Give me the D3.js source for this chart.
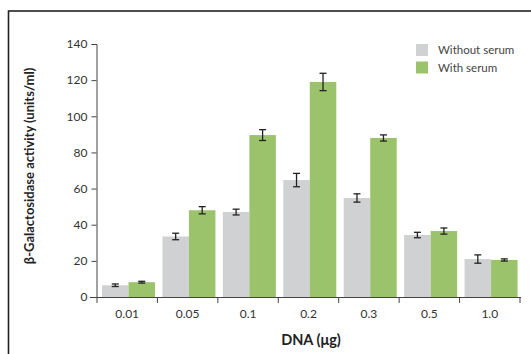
<html>
<script src="https://d3js.org/d3.v7.min.js"></script>
<body style="margin:0;background:#fff">
<svg id="chart" width="531" height="354"></svg>
<script>
// Data
const doses = ["0.01", "0.05", "0.1", "0.2", "0.3", "0.5", "1.0"];
const series = ["Without serum", "With serum"];
const withoutSerum = [6.5, 33.5, 47, 64.7, 54.8, 34.3, 21];
const withSerum = [8.2, 48, 89.6, 119, 88, 36.5, 20.5];
const withoutErr = [0.7, 1.8, 1.6, 3.7, 2.3, 1.5, 2.3];
const withErr = [0.5, 2.0, 3.0, 4.8, 1.7, 1.7, 0.6];
const yTicks = [0, 20, 40, 60, 80, 100, 120, 140];
const colors = ["#d0d1d3", "#9bc36b"];

const svg = d3.select("#chart");
const font = "Lato, 'DejaVu Sans', sans-serif";

// Frame
svg.append("rect")
  .attr("x", 8.5).attr("y", 11)
  .attr("width", 540).attr("height", 360)
  .attr("fill", "none").attr("stroke", "#222").attr("stroke-width", 1.6);

// Scales
const x0 = d3.scaleBand().domain(doses).range([97, 520]).padding(0);
const x1 = d3.scaleBand().domain(series).range([5, 58]).padding(0);
const y = d3.scaleLinear().domain([0, 140]).range([297, 44]);

// Bars
const rows = doses.map((d, i) => ({
  dose: d,
  vals: [
    {s: series[0], v: withoutSerum[i], e: withoutErr[i], c: colors[0]},
    {s: series[1], v: withSerum[i], e: withErr[i], c: colors[1]}
  ]
}));

const g = svg.append("g").selectAll("g")
  .data(rows).enter().append("g")
  .attr("transform", d => "translate(" + x0(d.dose) + ",0)");

g.selectAll("rect")
  .data(d => d.vals).enter().append("rect")
  .attr("x", d => x1(d.s))
  .attr("y", d => y(d.v))
  .attr("width", x1.bandwidth())
  .attr("height", d => y(0) - y(d.v))
  .attr("fill", d => d.c);

// Error bars
const eb = g.selectAll("g.err")
  .data(d => d.vals).enter().append("g")
  .attr("class", "err")
  .attr("stroke", "#222").attr("stroke-width", 1.3);
const cx = d => x1(d.s) + x1.bandwidth() / 2;
eb.append("line")
  .attr("x1", cx).attr("x2", cx)
  .attr("y1", d => y(d.v + d.e)).attr("y2", d => y(d.v - d.e));
eb.append("line")
  .attr("x1", d => cx(d) - 3.5).attr("x2", d => cx(d) + 3.5)
  .attr("y1", d => y(d.v + d.e)).attr("y2", d => y(d.v + d.e));
eb.append("line")
  .attr("x1", d => cx(d) - 3.5).attr("x2", d => cx(d) + 3.5)
  .attr("y1", d => y(d.v - d.e)).attr("y2", d => y(d.v - d.e));

// Y axis
const yAxis = svg.append("g")
  .attr("transform", "translate(96.5,0)")
  .call(d3.axisLeft(y).tickValues(yTicks).tickSize(5).tickPadding(4));

// X axis
const xAxis = svg.append("g")
  .attr("transform", "translate(0,297)")
  .call(d3.axisBottom(x0).tickSize(0).tickPadding(12));
xAxis.select(".domain").attr("d", "M90,0.5H521");
xAxis.selectAll(".bdry")
  .data(doses.concat(["end"])).enter().append("line")
  .attr("class", "bdry")
  .attr("x1", (d, i) => i < doses.length ? x0(d) : 520)
  .attr("x2", (d, i) => i < doses.length ? x0(d) : 520)
  .attr("y1", 0).attr("y2", 6)
  .attr("stroke", "#444");

[yAxis, xAxis].forEach(a => {
  a.selectAll(".domain").attr("stroke", "#444");
  a.selectAll(".tick line").attr("stroke", "#444");
  a.selectAll("text").attr("fill", "#333")
    .style("font-family", font).style("font-size", "12px");
});

// Axis titles
svg.append("text")
  .attr("transform", "translate(34,166) rotate(-90)")
  .attr("text-anchor", "middle")
  .style("font-family", font).style("font-size", "13px").style("font-weight", "bold")
  .attr("fill", "#222")
  .text("β-Galactosidase activity (units/ml)");

svg.append("text")
  .attr("x", 311).attr("y", 345)
  .attr("text-anchor", "middle")
  .style("font-family", font).style("font-size", "14.5px").style("font-weight", "bold")
  .attr("fill", "#222")
  .text("DNA (μg)");

// Legend
const leg = svg.append("g").selectAll("g")
  .data(series).enter().append("g")
  .attr("transform", (d, i) => "translate(416," + (44 + i * 17.5) + ")");
leg.append("rect").attr("width", 12).attr("height", 12).attr("fill", (d, i) => colors[i]);
leg.append("text")
  .attr("x", 22).attr("y", 10)
  .style("font-family", font).style("font-size", "11.5px")
  .attr("fill", "#444")
  .text(d => d);
</script>
</body>
</html>
